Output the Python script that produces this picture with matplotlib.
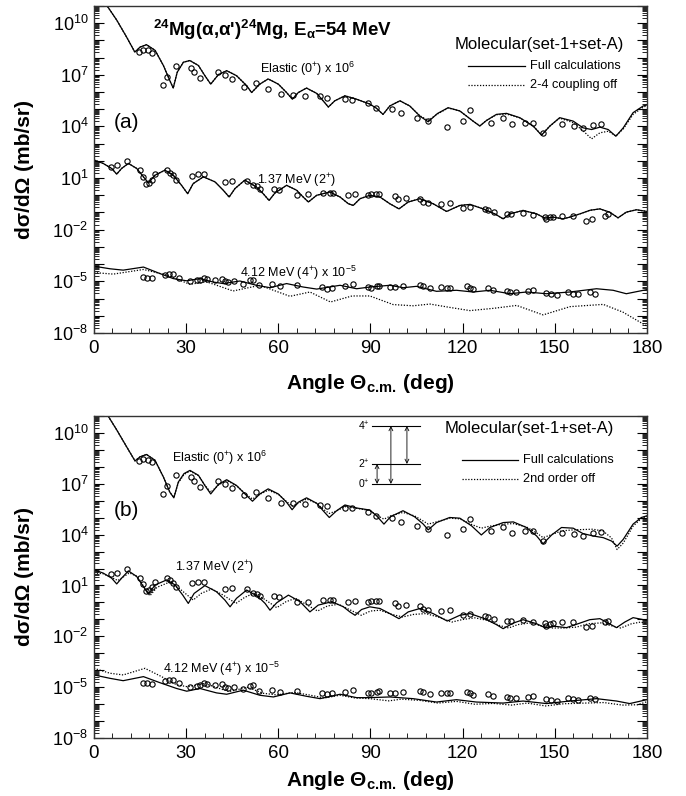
import numpy as np
import matplotlib
matplotlib.use('Agg')
import matplotlib.pyplot as plt
from matplotlib.ticker import LogLocator, FuncFormatter, MultipleLocator, NullFormatter

plt.rcParams['font.family'] = ['Liberation Sans', 'DejaVu Sans']
plt.rcParams['mathtext.default'] = 'regular'

# ---- experimental data (same in both panels), log10 of dsigma/dOmega ----
exp_el_ang = [14.8, 16.1, 17.7, 18.8, 22.6, 23.9, 26.7, 31.5, 32.6, 34.5, 40.5, 42.6, 44.8, 48.8, 52.6,
              56.7, 60.9, 64.7, 68.7, 73.6, 75.7, 81.7, 83.9, 89.3, 91.8, 96.9, 100.1, 105.0, 108.8,
              115.0, 120.0, 122.4, 129.1, 133.2, 136.2, 140.3, 143.0, 146.2, 152.5, 156.2, 159.2,
              162.3, 165.2]
exp_el_log = [8.32, 8.46, 8.42, 8.26, 6.42, 6.85, 7.50, 7.38, 7.15, 6.81, 7.19, 7.01, 6.76, 6.31, 6.52,
              6.17, 5.86, 5.84, 5.78, 5.74, 5.68, 5.58, 5.56, 5.35, 5.09, 5.0, 4.76, 4.51, 4.31,
              3.98, 4.31, 4.94, 4.22, 4.47, 4.12, 4.20, 4.22, 3.63, 4.12, 4.02, 3.92,
              4.08, 4.16]

exp_2p_ang = [5.4, 7.6, 10.6, 15.0, 16.1, 16.9, 18.0, 18.8, 19.9, 23.9, 24.7, 25.6, 26.7, 31.8, 34.0,
              35.8, 42.6, 44.8, 49.7, 51.9, 53.0, 54.0, 58.6, 60.3, 66.0, 69.8, 74.6, 76.8, 77.9, 82.8,
              85.0, 89.3, 90.3, 91.8, 92.8, 97.9, 99.0, 101.7, 106.1, 107.2, 108.8, 112.9, 115.8,
              120.2, 122.4, 127.2, 128.3, 130.2, 134.3, 135.9, 139.7, 143.0, 146.8, 147.3, 148.4,
              149.5, 152.5, 156.0, 160.3, 162.0, 166.3, 167.4]
exp_2p_log = [1.66, 1.75, 1.99, 1.46, 1.07, 0.68, 0.74, 0.88, 1.23, 1.46, 1.31, 1.17, 0.88, 1.13, 1.23,
              1.23, 0.78, 0.84, 0.82, 0.58, 0.52, 0.39, 0.39, 0.29, 0.04, 0.05, 0.13, 0.15, 0.13, 0.04,
              0.09, 0.04, 0.09, 0.09, 0.09, -0.06, -0.20, -0.16, -0.20, -0.39, -0.45, -0.49, -0.45,
              -0.73, -0.69, -0.79, -0.84, -0.98, -1.08, -1.08, -1.04, -1.14, -1.24, -1.37, -1.27,
              -1.24, -1.18, -1.18, -1.47, -1.37, -1.18, -1.08]

exp_4p_ang = [16.1, 17.4, 18.8, 23.1, 24.5, 25.6, 27.8, 31.2, 33.4, 34.5, 35.8, 36.9, 39.4, 41.6, 42.6,
              43.7, 45.6, 48.6, 50.8, 51.9, 53.8, 57.8, 60.5, 66.0, 74.1, 75.7, 77.4, 81.7, 84.4, 89.3,
              90.3, 92.2, 92.8, 96.5, 97.9, 100.7, 106.1, 107.2, 109.3, 112.9, 114.8, 115.8, 121.3,
              122.4, 123.4, 128.3, 130.0, 134.3, 135.4, 137.5, 141.3, 143.0, 147.3, 148.9, 150.6,
              154.4, 156.0, 157.6, 161.4, 163.0]
exp_4p_log = [-4.74, -4.78, -4.80, -4.64, -4.55, -4.59, -4.78, -5.00, -4.94, -4.90, -4.78, -4.84, -4.90,
              -4.84, -4.98, -5.04, -5.00, -5.13, -4.94, -4.90, -5.23, -5.17, -5.29, -5.23, -5.33, -5.43,
              -5.37, -5.27, -5.17, -5.33, -5.37, -5.29, -5.25, -5.33, -5.33, -5.27, -5.23, -5.29,
              -5.39, -5.33, -5.37, -5.37, -5.29, -5.37, -5.47, -5.39, -5.52, -5.56, -5.62, -5.62,
              -5.56, -5.52, -5.68, -5.76, -5.82, -5.62, -5.72, -5.76, -5.62, -5.72]

# ---- panel (a) calculations ----
el_a_ang = [3.0, 4.1, 7.4, 10.6, 13.3, 15.0, 17.1, 19.9, 22.6, 24.7, 25.8, 27.1, 29.1, 31.2, 34.0, 36.1,
            38.0, 40.5, 43.2, 46.4, 49.7, 51.3, 54.0, 56.7, 60.0, 62.7, 64.6, 66.5, 69.2, 72.5, 74.6,
            76.3, 78.4, 81.7, 85.5, 89.8, 92.0, 94.1, 96.3, 99.6, 102.8, 106.1, 108.8, 111.8, 115.3,
            119.1, 123.4, 125.6, 127.8, 131.0, 134.3, 138.6, 143.0, 145.7, 148.4, 151.6, 156.0,
            159.2, 162.0, 164.7, 167.4, 169.9, 172.3, 175.5, 178.8, 180.0]
el_a_full = [11.4, 11.05, 10.18, 9.2, 8.32, 8.61, 8.75, 8.42, 7.54, 6.66, 6.23, 7.15, 7.73, 7.83, 7.54,
             6.95, 6.46, 7.01, 7.24, 6.95, 6.37, 5.97, 6.46, 6.76, 6.46, 5.97, 5.58, 5.97, 6.23, 5.92,
             5.49, 5.13, 5.49, 5.78, 5.58, 5.3, 5.05, 4.70, 5.19, 5.49, 5.19, 4.6, 4.27, 4.75, 5.09,
             4.90, 4.31, 4.02, 4.35, 4.70, 4.76, 4.51, 4.02, 3.49, 4.02, 4.51, 4.31, 3.92, 3.82,
             3.96, 3.82, 3.43, 3.92, 4.80, 5.19, 5.25]
el_a_off = [11.4, 11.05, 10.18, 9.2, 8.32, 8.61, 8.75, 8.42, 7.54, 6.66, 6.23, 7.15, 7.73, 7.83, 7.54,
            6.95, 6.46, 7.01, 7.24, 6.95, 6.37, 5.97, 6.46, 6.76, 6.46, 5.97, 5.58, 5.97, 6.23, 5.92,
            5.49, 5.13, 5.49, 5.78, 5.58, 5.3, 5.05, 4.70, 5.19, 5.49, 5.19, 4.62, 4.35, 4.72, 5.07,
            4.90, 4.31, 4.05, 4.35, 4.68, 4.72, 4.50, 4.02, 3.52, 4.02, 4.48, 4.22, 3.75, 3.28,
            3.63, 3.72, 3.45, 3.85, 4.70, 5.12, 5.20]

s2_a_ang = [0, 3.0, 5.75, 7.4, 9.0, 11.2, 13.9, 16.1, 17.7, 19.9, 23.1, 25.8, 28.5, 30.5, 32.3, 35.6,
            39.4, 42.1, 44.0, 45.9, 49.1, 52.9, 55.1, 57.0, 58.9, 62.7, 66.0, 68.1, 69.8, 72.5, 76.8,
            80.1, 82.8, 84.4, 86.6, 89.8, 93.1, 96.3, 99.3, 102.3, 106.1, 110.4, 114.8, 119.1, 122.4,
            126.7, 130.5, 133.2, 135.4, 139.7, 144.1, 146.8, 149.5, 152.7, 154.9, 158.2, 161.5,
            164.7, 167.9, 170.6, 173.3, 176.6, 180]
s2_a_full = [2.05, 1.85, 1.56, 1.23, 1.56, 1.85, 1.56, 1.07, 0.72, 1.17, 1.46, 1.17, 0.58, 0.09, 0.68,
             1.07, 0.78, 0.29, -0.10, 0.39, 0.88, 0.48, 0.09, -0.30, 0.13, 0.58, 0.29, -0.10, -0.39,
             0.00, 0.19, -0.10, -0.49, -0.59, -0.20, 0.00, -0.10, -0.49, -0.79, -0.39, -0.20, -0.49,
             -0.94, -0.59, -0.53, -0.79, -1.08, -1.37, -1.08, -0.88, -1.08, -1.33, -1.27, -1.37,
             -1.27, -1.08, -0.87, -0.79, -0.98, -1.31, -0.98, -0.84, -0.94]
# 2-4 coupling off coincides with the full curve for the 2+ state

s4_a_ang = [0, 5.2, 9.5, 16.1, 21.5, 25.8, 30.2, 34.5, 38.8, 42.1, 47.5, 52.9, 57.3, 62.7, 68.1, 72.5,
            80.1, 85.5, 89.8, 96.3, 100.7, 105.0, 111.5, 118.0, 123.4, 128.9, 135.4, 140.8, 147.3,
            154.9, 163.6, 169.0, 173.3, 180]
s4_a_full = [-4.12, -4.27, -4.35, -4.17, -4.55, -4.84, -4.97, -4.84, -5.04, -5.13, -4.98, -5.23, -5.37,
             -5.13, -5.33, -5.45, -5.23, -5.43, -5.33, -5.23, -5.37, -5.29, -5.58, -5.52, -5.62, -5.52,
             -5.72, -5.62, -5.72, -5.62, -5.43, -5.52, -5.72, -5.48]
s4_a_off_ang = [0, 6.3, 16.1, 23.7, 31.2, 36.7, 45.3, 54.0, 63.8, 70.3, 77.0, 84.0, 89.8, 97.4, 103.9,
                109.4, 116.0, 122.4, 130.0, 137.6, 146.2, 155.0, 165.8, 172.2, 176.6, 180]
s4_a_off = [-4.49, -4.58, -4.31, -4.64, -5.17, -5.03, -5.56, -5.23, -5.87, -5.62, -6.2, -5.85, -5.85,
            -6.35, -6.42, -6.32, -6.52, -6.7, -6.57, -6.4, -6.95, -6.47, -6.34, -6.79, -7.25, -7.6]

# ---- panel (b) calculations ----
el_b_ang = [3.0, 4.7, 7.4, 10.6, 13.35, 15.0, 17.1, 19.85, 22.6, 24.7, 26.0, 27.45, 29.3, 31.25, 34.0,
            36.1, 38.0, 40.5, 43.2, 46.4, 49.7, 51.6, 54.0, 56.7, 60.0, 62.7, 64.5, 66.5, 69.2, 72.5,
            74.6, 76.6, 79.0, 81.7, 85.5, 89.8, 92.0, 94.4, 96.5, 100.6, 104.4, 107.2, 108.8, 111.5,
            115.8, 119.1, 122.9, 126.1, 128.9, 133.2, 136.5, 140.8, 144.1, 146.2, 149.0, 152.2,
            156.0, 159.2, 162.5, 165.8, 168.5, 170.3, 172.3, 175.5, 178.2, 180]
el_b_full = [11.4, 10.97, 10.18, 9.19, 8.35, 8.59, 8.73, 8.39, 7.40, 6.50, 6.17, 7.10, 7.6, 7.79, 7.50,
             6.90, 6.40, 6.96, 7.24, 6.90, 6.30, 5.97, 6.40, 6.70, 6.40, 5.91, 5.47, 5.91, 6.17, 5.85,
             5.41, 5.01, 5.41, 5.75, 5.57, 5.45, 5.11, 4.62, 5.05, 5.41, 5.05, 4.62, 4.28, 4.71, 5.01,
             4.97, 4.52, 3.98, 4.42, 4.71, 4.75, 4.42, 3.92, 3.46, 3.98, 4.42, 4.38, 4.06, 3.92,
             3.82, 3.62, 3.32, 3.72, 4.62, 5.01, 5.11]
el_b_off = [11.4, 10.97, 10.18, 9.19, 8.35, 8.59, 8.73, 8.39, 7.40, 6.50, 6.2, 7.05, 7.55, 7.75, 7.48,
            6.92, 6.5, 6.92, 7.2, 6.88, 6.35, 6.1, 6.38, 6.62, 6.38, 5.95, 5.68, 5.85, 6.1, 5.85,
            5.5, 5.25, 5.4, 5.65, 5.55, 5.42, 5.15, 4.91, 5.1, 5.31, 5.1, 4.8, 4.62, 4.75, 4.97,
            4.93, 4.6, 4.38, 4.5, 4.62, 4.65, 4.45, 4.1, 3.82, 4.0, 4.22, 4.28, 4.3, 4.32,
            4.2, 3.8, 3.12, 3.5, 4.5, 4.95, 5.08]

s2_b_ang = [0, 3.0, 5.75, 7.4, 9.0, 11.2, 13.9, 16.1, 17.7, 19.9, 23.7, 26.4, 28.9, 30.7, 32.6, 36.1,
            39.9, 42.6, 44.3, 46.4, 49.7, 53.5, 55.7, 57.3, 59.5, 63.3, 67.1, 68.7, 70.3, 73.0, 77.4,
            81.2, 83.3, 85.0, 87.1, 89.8, 93.1, 96.3, 99.3, 102.3, 106.1, 110.4, 115.0, 119.1, 122.4,
            127.2, 131.0, 133.2, 136.5, 139.7, 144.1, 146.8, 150.0, 153.8, 157.1, 161.4, 164.7,
            167.4, 170.1, 172.8, 175.5, 180]
s2_b_full = [1.92, 1.73, 1.43, 1.09, 1.43, 1.86, 1.53, 0.93, 0.49, 1.03, 1.33, 1.03, 0.43, -0.06, 0.53,
             0.99, 0.63, 0.14, -0.26, 0.24, 0.73, 0.33, -0.06, -0.46, -0.02, 0.43, 0.04, -0.26, -0.56,
             -0.16, 0.04, -0.26, -0.56, -0.76, -0.42, -0.26, -0.36, -0.66, -0.96, -0.56, -0.36,
             -0.66, -1.10, -0.76, -0.66, -0.96, -1.31, -1.55, -1.22, -1.02, -1.26, -1.49, -1.41,
             -1.49, -1.29, -1.02, -0.96, -1.22, -1.49, -1.16, -0.90, -1.06]
s2_b_off_ang = [0, 3.0, 7.8, 11.5, 14.0, 18.2, 20.5, 24.5, 28.0, 32.3, 35.0, 38.3, 42.0, 46.2, 49.0,
                52.0, 55.5, 59.5, 62.5, 65.6, 69.0, 72.8, 76.0, 79.6, 83.0, 87.0, 90.0, 93.0, 97.0,
                100.5, 104.0, 108.0, 112.0, 116.5, 120.0, 124.0, 128.0, 132.0, 135.0, 138.0, 142.0,
                146.0, 149.0, 153.0, 157.0, 161.0, 165.0, 168.0, 171.5, 175.0, 178.0, 180]
s2_b_off = [1.74, 1.69, 1.29, 1.74, 1.54, 0.39, 0.89, 1.19, 0.79, 0.14, 0.54, 0.79, 0.44, -0.06, 0.29,
            0.54, 0.19, -0.31, 0.04, 0.24, -0.11, -0.51, -0.21, -0.11, -0.41, -0.76, -0.51, -0.46,
            -0.71, -0.86, -0.71, -0.66, -0.86, -1.16, -1.01, -0.91, -1.06, -1.36, -1.51, -1.31,
            -1.21, -1.41, -1.51, -1.51, -1.46, -1.26, -1.21, -1.36, -1.51, -1.26, -1.16, -1.26]

s4_b_ang = [0, 5.2, 9.5, 16.1, 21.5, 26.9, 30.2, 34.5, 39.9, 43.2, 48.6, 54.0, 58.4, 63.8, 69.2, 73.6,
            80.1, 85.5, 89.8, 96.3, 103.9, 111.5, 118.0, 124.5, 133.2, 139.7, 147.3, 154.9, 163.6,
            170.1, 174.4, 180]
s4_b_full = [-4.28, -4.48, -4.62, -4.38, -4.74, -5.08, -5.24, -5.08, -5.34, -5.42, -5.18, -5.48, -5.58,
             -5.34, -5.54, -5.68, -5.42, -5.62, -5.62, -5.58, -5.68, -5.88, -5.74, -5.88, -5.94, -5.82,
             -5.97, -5.82, -5.68, -5.82, -5.97, -5.74]
s4_b_off_ang = [0, 5.2, 9.5, 16.6, 22.0, 26.9, 30.5, 36.0, 40.5, 44.0, 50.0, 55.0, 59.5, 65.0, 70.0,
                75.0, 80.0, 85.0, 89.8, 96.0, 100.0, 106.0, 112.0, 118.0, 124.0, 130.0, 136.0, 141.0,
                147.0, 153.0, 160.0, 166.0, 172.0, 177.0, 180]
s4_b_off = [-3.89, -4.18, -4.28, -3.89, -4.38, -4.86, -4.98, -4.78, -5.06, -5.26, -5.01, -5.36, -5.46,
            -5.31, -5.46, -5.64, -5.48, -5.64, -5.68, -5.81, -5.71, -5.78, -5.94, -5.84, -6.01, -5.96,
            -6.06, -5.94, -6.11, -5.98, -5.94, -5.91, -6.06, -6.04, -5.86]

dot = (0, (1.0, 1.3))
LW = 0.9


def p10(v):
    return 10.0 ** np.asarray(v)


def fmt_log(v, pos):
    e = int(round(np.log10(v)))
    return f'$10^{{{e}}}$' if e % 3 == 1 else ''


def setup_axis(ax, xlab_y):
    ax.set_xlim(0, 180)
    ax.set_yscale('log')
    ax.set_ylim(1e-8, 1e11)
    ax.xaxis.set_major_locator(MultipleLocator(30))
    ax.xaxis.set_minor_locator(MultipleLocator(6))
    ax.yaxis.set_major_locator(LogLocator(base=10, numticks=60))
    ax.yaxis.set_minor_locator(LogLocator(base=10, subs=np.arange(2, 10), numticks=400))
    ax.yaxis.set_major_formatter(FuncFormatter(fmt_log))
    ax.yaxis.set_minor_formatter(NullFormatter())
    ax.tick_params(axis='y', which='both', direction='in', left=True, right=True, labelsize=13, pad=4)
    ax.tick_params(axis='x', which='both', direction='in', bottom=True, top=False, labelsize=13.5, pad=5)
    ax.tick_params(which='major', length=7, width=0.8)
    ax.tick_params(which='minor', length=3.5, width=0.6)
    for s in ax.spines.values():
        s.set_linewidth(1.0)
        s.set_color('#333333')
    ax.set_ylabel('dσ/dΩ (mb/sr)', fontsize=15, fontweight='bold')
    ax.yaxis.set_label_coords(-0.108, 0.5)
    ax.set_xlabel(r'Angle Θ$_{c.\!m.\!}$ (deg)', fontsize=15, fontweight='bold')
    ax.xaxis.set_label_coords(0.5, xlab_y)


def draw_exp(ax):
    for a, v in [(exp_el_ang, exp_el_log), (exp_2p_ang, exp_2p_log), (exp_4p_ang, exp_4p_log)]:
        ax.plot(a, p10(v), 'o', mfc='none', mec='k', ms=3.8, mew=0.8)


fig = plt.figure(figsize=(6.86, 7.96), dpi=100)
ax_a = fig.add_axes([0.137, 0.5817, 0.806, 0.4108])
ax_b = fig.add_axes([0.137, 0.0729, 0.806, 0.4045])

# panel (a)
ax = ax_a
ax.plot(el_a_ang, p10(el_a_off), color='k', lw=LW, ls=dot)
ax.plot(el_a_ang, p10(el_a_full), color='k', lw=LW)
ax.plot(s2_a_ang, p10(s2_a_full), color='k', lw=LW, ls=dot)
ax.plot(s2_a_ang, p10(s2_a_full), color='k', lw=LW)
ax.plot(s4_a_off_ang, p10(s4_a_off), color='k', lw=LW, ls=dot)
ax.plot(s4_a_ang, p10(s4_a_full), color='k', lw=LW)
draw_exp(ax)
setup_axis(ax, -0.12)
ax.text(0.107, 0.928, "$^{24}$Mg(α,α')$^{24}$Mg, E$_{α}$=54 MeV", transform=ax.transAxes,
        fontsize=13.5, fontweight='bold', va='center', ha='left')
ax.text(0.058, 0.645, '(a)', transform=ax.transAxes, fontsize=15, va='center', ha='center')
ax.text(0.300, 0.807, 'Elastic (0$^{+}$) x 10$^{6}$', transform=ax.transAxes, fontsize=9, va='center')
ax.text(0.295, 0.465, '1.37 MeV (2$^{+}$)', transform=ax.transAxes, fontsize=9, va='center')
ax.text(0.264, 0.183, '4.12 MeV (4$^{+}$) x 10$^{-5}$', transform=ax.transAxes, fontsize=9, va='center')
ax.text(0.653, 0.881, 'Molecular(set-1+set-A)', transform=ax.transAxes, fontsize=12, va='center')
ax.plot([0.676, 0.779], [0.817, 0.817], transform=ax.transAxes, color='k', lw=LW)
ax.plot([0.676, 0.779], [0.758, 0.758], transform=ax.transAxes, color='k', lw=LW, ls=dot)
ax.text(0.788, 0.817, 'Full calculations', transform=ax.transAxes, fontsize=9.2, va='center')
ax.text(0.788, 0.758, '2-4 coupling off', transform=ax.transAxes, fontsize=9.2, va='center')

# panel (b)
ax = ax_b
ax.plot(el_b_ang, p10(el_b_off), color='k', lw=LW, ls=dot)
ax.plot(el_b_ang, p10(el_b_full), color='k', lw=LW)
ax.plot(s2_b_off_ang, p10(s2_b_off), color='k', lw=LW, ls=dot)
ax.plot(s2_b_ang, p10(s2_b_full), color='k', lw=LW)
ax.plot(s4_b_off_ang, p10(s4_b_off), color='k', lw=LW, ls=dot)
ax.plot(s4_b_ang, p10(s4_b_full), color='k', lw=LW)
draw_exp(ax)
setup_axis(ax, -0.095)
ax.text(0.058, 0.705, '(b)', transform=ax.transAxes, fontsize=15, va='center', ha='center')
ax.text(0.141, 0.870, 'Elastic (0$^{+}$) x 10$^{6}$', transform=ax.transAxes, fontsize=9, va='center')
ax.text(0.146, 0.528, '1.37 MeV (2$^{+}$)', transform=ax.transAxes, fontsize=9, va='center')
ax.text(0.125, 0.214, '4.12 MeV (4$^{+}$) x 10$^{-5}$', transform=ax.transAxes, fontsize=9, va='center')
ax.text(0.635, 0.960, 'Molecular(set-1+set-A)', transform=ax.transAxes, fontsize=12, va='center')
ax.plot([0.665, 0.767], [0.863, 0.863], transform=ax.transAxes, color='k', lw=LW)
ax.plot([0.665, 0.767], [0.804, 0.804], transform=ax.transAxes, color='k', lw=LW, ls=dot)
ax.text(0.776, 0.863, 'Full calculations', transform=ax.transAxes, fontsize=9.2, va='center')
ax.text(0.776, 0.804, '2nd order off', transform=ax.transAxes, fontsize=9.2, va='center')

# level scheme inset
for yl, lab in [(0.969, '4$^{+}$'), (0.851, '2$^{+}$'), (0.789, '0$^{+}$')]:
    ax.plot([0.503, 0.589], [yl, yl], transform=ax.transAxes, color='k', lw=0.8)
    ax.text(0.499, yl, lab, transform=ax.transAxes, fontsize=7.5, ha='right', va='center')
for xa, y0, y1 in [(0.537, 0.789, 0.969), (0.566, 0.851, 0.969), (0.512, 0.789, 0.851)]:
    ax.annotate('', xy=(xa, y1), xytext=(xa, y0), xycoords='axes fraction',
                arrowprops=dict(arrowstyle='<->', lw=0.6, shrinkA=0, shrinkB=0, mutation_scale=7))

fig.savefig('out.png', dpi=100)
